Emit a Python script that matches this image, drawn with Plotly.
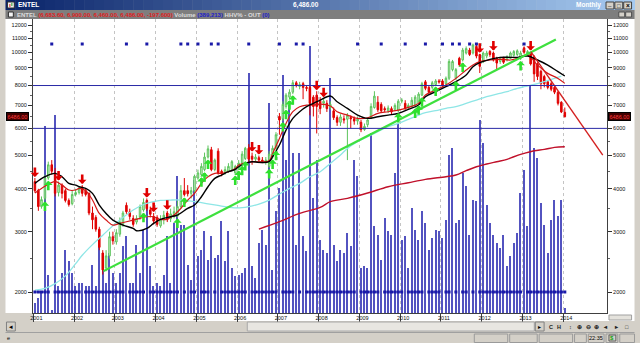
import math
import pandas as pd
import plotly.graph_objects as go

# ---------------- data ----------------
months = [d + pd.Timedelta(days=14) for d in pd.date_range("2001-01-01", periods=157, freq="MS")]
mstr = [d.strftime("%Y-%m-%d") for d in months]

open_ = [4200,3960,3550,3750,4300,4700,4450,3900,4100,3950,
         3700,3620,3850,3900,4050,3950,3880,3400,3300,3050,
         2600,2350,2550,2900,2800,2950,3150,3580,3430,3280,
         3200,3300,3470,3700,3470,3320,3300,3120,3250,3400,
         3270,3330,3330,3550,3950,3950,3880,3950,4300,4400,
         4550,4950,5200,4550,5150,4500,4450,4500,4550,4450,
         4600,4750,4900,5250,4980,4880,4930,4850,4780,4650,
         4950,5250,6500,6400,6950,7400,7650,8150,7950,8100,
         7900,7900,7400,7500,7200,7100,7100,6900,6750,6450,
         6250,6400,6380,6450,6400,6300,6250,5950,6150,6450,
         6900,7150,7050,6850,6750,6850,6820,6750,7200,7100,
         6900,6950,7000,7100,7500,8200,7900,7900,8050,8250,
         8250,8100,8400,8900,8400,9600,9500,9950,10150,9950,
         10400,9850,9400,9750,10050,9950,9600,9400,9600,9500,
         9600,9800,9850,9600,10300,9850,9950,9700,9250,8800,
         8500,8200,8100,7900,7650,7150,6683.6]
high = [4300,4000,3800,4400,4800,4850,4600,4200,4150,4000,
        3750,3950,4000,4050,4100,4000,3900,3550,3350,3100,
        2650,2650,3000,3000,3050,3300,3450,3650,3500,3350,
        3350,3600,3750,3750,3550,3400,3350,3350,3450,3450,
        3500,3550,3700,4100,4300,4100,4050,4400,4550,4750,
        5100,5350,5300,4900,5250,4550,4650,4750,4850,4700,
        4850,5150,5300,5400,5100,5050,5000,4950,4950,5150,
        5350,5850,6650,7200,7600,7800,8300,8250,8200,8200,
        8000,8000,7500,7700,7400,7350,7250,7200,6900,6550,
        6600,6550,6650,6550,6500,6500,6350,6200,6450,7100,
        7700,7450,7150,6950,7000,6950,7100,7300,7350,7250,
        7100,7400,7500,7650,8200,8300,8000,8250,8350,8350,
        8350,8500,9550,9500,9000,9700,10300,10400,10300,10600,
        10500,9900,10050,10100,10150,10050,9700,9700,9700,9800,
        10050,10150,10200,10100,10400,10150,10050,9800,9350,8900,
        8600,8300,8200,8000,7700,7200,6900]
low = [3900,3450,3500,3700,4250,4400,3800,3800,3750,3650,
       3550,3580,3800,3850,3800,3800,3350,3050,3000,2650,
       2250,2300,2500,2750,2750,2900,3100,3380,3250,3100,
       3150,3250,3430,3450,3300,3150,3100,3080,3150,3200,
       3200,3280,3300,3500,3800,3800,3750,3900,4250,4350,
       4500,4900,4500,4500,4400,4350,4400,4450,4500,4400,
       4550,4700,4850,4800,4700,4800,4750,4750,4700,4600,
       4900,5200,5750,6300,6850,7300,7550,7900,7800,7300,
       7700,6550,6500,5800,6600,6900,6700,6800,6350,6100,
       6100,6200,4850,6000,6150,6150,5850,5900,6050,6400,
       6850,6700,6650,6700,6650,6600,6750,6700,7100,6800,
       6800,6900,6900,7050,7450,7750,7600,7800,8000,8100,
       7900,8000,8300,8800,8300,9100,9400,9850,9750,9850,
       9600,8700,9300,9600,9700,9400,8900,9250,9250,9400,
       9550,9700,9750,9500,9900,9800,9150,8200,8300,7800,
       7900,7800,7700,7550,7000,6650,6460]
close = [3950,3550,3720,4300,4700,4500,3880,4100,3880,3700,
         3600,3850,3900,4000,3880,3850,3400,3250,3050,2700,
         2320,2550,2900,2820,2980,3200,3400,3430,3320,3150,
         3280,3550,3650,3500,3370,3220,3150,3250,3350,3250,
         3380,3430,3550,3950,3850,3870,3950,4350,4450,4650,
         4950,5230,4550,4850,4450,4420,4550,4650,4800,4650,
         4750,5050,5250,4880,4880,4950,4850,4800,4850,5050,
         5250,5750,6350,7050,7500,7650,8150,8000,8050,7900,
         7850,7100,6950,6950,6850,7200,6850,7050,6450,6250,
         6480,6350,6550,6400,6300,6380,5950,6080,6350,6950,
         7450,6800,6750,6800,6880,6700,7000,7200,7250,6850,
         7000,7250,7400,7550,8100,7850,7650,8150,8250,8200,
         8000,8400,9400,9400,8900,9200,10150,10250,9850,10500,
         9750,9100,9950,9950,9850,9500,9300,9600,9350,9700,
         9950,10050,10100,9950,10000,10050,9250,8650,8500,8100,
         8100,7900,7800,7650,7100,6700,6486]
volume = [780,1170,1560,14560,2990,260,15470,2080,3120,4940,
          4030,3120,2080,2340,2340,2080,2080,3770,2080,5980,
          4680,2340,4680,3120,2340,3120,5200,5980,2340,2340,
          5330,3120,6500,8840,3640,2080,2340,2080,2990,5980,
          2340,7020,10660,6890,6890,3770,2600,10400,4420,4940,
          6370,4160,5980,4290,4550,7150,4030,6370,3510,2860,
          2990,3120,3510,18720,3640,2730,5460,6500,5330,16380,
          3380,7930,9750,18590,11960,16250,12480,5330,12480,5980,
          4810,20800,8970,11960,5720,4940,4680,18330,5330,4030,
          4940,4680,6240,5200,11960,10660,3510,3640,3510,14040,
          6760,6110,4160,7410,6370,6110,10920,14820,5720,5980,
          3510,8190,6500,5720,7930,7020,4940,5850,6500,6370,
          5850,7280,12350,12870,7020,7280,10920,9880,6110,8840,
          8710,15080,13260,8450,7020,6110,5460,5070,6110,3640,
          4420,5460,6240,9360,11180,6760,17810,12870,12090,8580,
          6890,4680,7280,8840,7540,8840,390]

black_idx = [0,3,6,8,10,12,13,15,17,19,21,23,26,29,30,33,35,37,40,42,45,47,49,51,53,55,57,59,60,62,
             64,66,69,70,72,74,76,78,80,82,84,87,89,92,95,98,101,104,107,110,113,115,118,121,124,127,
             129,131,134,137,140,142,145,148,151,154,156]
black_val = [4148,4338,4436,4338,4148,4100,4056,4010,3879,3587,3391,3243,3136,3066,3018,3066,3171,3257,3316,3353,
             3508,3587,3793,4056,4290,4387,4486,4556,4639,4744,4797,4776,4797,4961,5365,5933,6416,6710,6939,7096,
             7257,7455,7176,6862,6561,6416,6488,6561,6635,6816,7017,7421,7675,7937,8208,8584,9078,9325,9536,9665,
             9665,9665,9752,9494,9180,8778,8526]
red_idx = [0,2,6,8,10,12,13,15,17,19,21,23,25,27,29,31,33,35,37,39,41,43,45,47,49,51,53,55,57,59,
           60,62,64,66,69,70,72,74,76,78,80,82,84,87,89,92,95,98,101,104,107,110,113,115,118,121,124,127,
           129,131,134,137,140,142,145,148,151,154,156]
red_val = [3888,4010,4195,4100,3967,3967,4010,3950,3709,3391,3243,3136,3171,3207,3243,3280,3316,3316,3257,3264,
           3353,3508,3709,3879,4148,4338,4436,4436,4486,4587,4691,4765,4797,4797,4830,5073,5610,6204,6710,6939,
           7017,7017,7064,6970,6710,6561,6416,6445,6635,6710,6786,6908,7096,7505,7761,8026,8392,8877,9180,9388,
           9494,9536,9494,9600,9818,9180,8680,8392,8116]
cyan_idx = [0,3,6,9,12,14,17,20,23,26,29,32,35,37,40,43,46,49,52,55,58,61,63,66,69,72,75,78,81,84,
            87,90,92,95,98,101,104,107,110,113,115,118,121,124,127,130,133,136,139,141,144,147,150,153,155]
cyan_val = [2027,2049,2116,2230,2420,2560,2750,2930,3120,3300,3470,3600,3670,3700,3709,3709,3684,3643,3603,3563,
            3523,3523,3547,3611,3709,3862,4010,4148,4338,4486,4744,5017,5246,5487,5673,5867,6067,6204,6374,6561,
            6665,6756,6862,6939,7096,7257,7421,7555,7675,7796,7937,8062,8208,8392,8526]
dred_idx = [66,72,78,84,87,92,98,104,110,115,121,124,127,130,133,136,139,141,144,147,150,153,156]
dred_val = [3052,3207,3391,3530,3668,3751,3888,4056,4167,4261,4338,4387,4516,4639,4723,4797,4873,4961,5073,
            5164,5211,5281,5305]

up_trend_dates = ["2002-09-22", "2013-10-27"]
up_trend_vals = [2302, 10893]
down_trend_dates = ["2013-03-18", "2014-12-21"]
down_trend_vals = [10030, 5013]

level_lines = [6000, 8000]
sell_arrow_idx = [0, 7, 14, 33, 35, 39, 64, 66, 83, 85, 131, 135, 146]
buy_arrow_idx = [3, 4, 32, 42, 44, 49, 50, 51, 59, 60, 61, 62, 69, 70, 71, 73, 74, 75, 76,
                 107, 112, 113, 114, 118, 124, 126, 143]
hhv_out_idx = [5, 14, 27, 33, 43, 45, 48, 52, 54, 63, 72, 77, 79, 95, 102, 109, 115, 120,
               123, 125, 128, 130, 144]

price_ticks = [2000, 3000, 4000, 5000, 6000, 7000, 8000, 9000, 10000, 11000, 12000]
minor_ticks = [2500, 3500, 4500, 5500, 6500, 7500, 8500, 9500, 10500, 11500]
years = list(range(2001, 2015))
last_price = 6486

# ---------------- geometry helpers (pixels -> paper) ----------------
PL, PR, PT, PB = 28, 612, 19, 313
def px(x):
    return (x - PL) / (PR - PL)
def py(y):
    return (PB - y) / (PB - PT)

FONT = "Liberation Sans"
fig = go.Figure()

# volume (behind everything)
fig.add_trace(go.Bar(x=mstr, y=volume, yaxis="y", marker=dict(color="#3c3cb8", line=dict(width=0)),
                     width=12 * 86400000, opacity=0.88, hoverinfo="skip"))

# candles
fig.add_trace(go.Candlestick(x=mstr, open=open_, high=high, low=low, close=close, yaxis="y2",
                             increasing=dict(line=dict(color="#5cc45c", width=1), fillcolor="#d6f0d2"),
                             decreasing=dict(line=dict(color="#e00000", width=1), fillcolor="#e00000"),
                             whiskerwidth=0))

def line(idx, vals, color, width, shape="spline"):
    fig.add_trace(go.Scatter(x=[mstr[i] for i in idx], y=vals, yaxis="y2", mode="lines",
                             line=dict(color=color, width=width, shape=shape, smoothing=1.0),
                             hoverinfo="skip"))

line(cyan_idx, cyan_val, "#8ee6e6", 1.3)
line(dred_idx, dred_val, "#c0102a", 1.4)
line(red_idx, red_val, "#d41818", 1.2)
line(black_idx, black_val, "#000000", 1.4)

fig.add_trace(go.Scatter(x=up_trend_dates, y=up_trend_vals, yaxis="y2", mode="lines",
                         line=dict(color="#3ee03e", width=2.2), hoverinfo="skip"))
fig.add_trace(go.Scatter(x=down_trend_dates, y=down_trend_vals, yaxis="y2", mode="lines",
                         line=dict(color="#d42020", width=1.4), hoverinfo="skip"))

for lv in level_lines:
    fig.add_trace(go.Scatter(x=["2000-06-01", "2015-06-01"], y=[lv, lv], yaxis="y3", mode="lines",
                             line=dict(color="#2a2aa6", width=1), hoverinfo="skip"))

# HHV% - OUT signal
top_x = [mstr[i] for i in hhv_out_idx]
fig.add_trace(go.Scatter(x=top_x, y=[1] * len(top_x), yaxis="y4", mode="markers",
                         marker=dict(symbol="square", size=3, color="#1a1aa8"), hoverinfo="skip"))
bot_y = [None if i in hhv_out_idx else 0 for i in range(len(mstr))]
fig.add_trace(go.Scatter(x=mstr, y=bot_y, yaxis="y4", mode="lines+markers",
                         line=dict(color="#2a2ac0", width=1),
                         marker=dict(symbol="square", size=3, color="#1a1aa8"), hoverinfo="skip"))

# ---------------- chrome shapes ----------------
shapes = []
def rect(x0, y0, x1, y1, fill, line_color=None, layer="above", lw=1):
    shapes.append(dict(type="rect", xref="paper", yref="paper", x0=px(x0), x1=px(x1), y0=py(y1), y1=py(y0),
                       fillcolor=fill, layer=layer,
                       line=dict(color=line_color or fill, width=lw if line_color else 0)))

# white axis areas
rect(0, PT, PL, PB, "#ffffff", layer="below")
rect(PR, PT, 640, PB, "#ffffff", layer="below")
rect(PL, PB, PR, 321, "#ffffff", layer="below")
rect(PR, PB, 640, 321, "#ffffff", layer="below")
rect(614, 315, 637, 320, "#e4e2dc", "#a0a0a0", layer="below")

# title bar gradient (Windows classic)
c0, c1 = (10, 36, 106), (166, 202, 240)
n = 64
for k in range(n):
    t = k / (n - 1)
    col = "rgb(%d,%d,%d)" % tuple(round(a + (b - a) * t) for a, b in zip(c0, c1))
    rect(k * 10, 0, k * 10 + 10.5, 10, col)
# header bar
rect(0, 10, 640, 19, "#7e7e7e")
rect(3, 12, 8, 17, "#f4f4f4", "#303030")
rect(624, 12, 630, 17, "#d4d0c8", "#505050")
rect(631, 12, 637, 17, "#d4d0c8", "#505050")
# title icon and buttons
rect(2, 2, 9, 8, "#f0f0f0", "#303030")
rect(4, 4, 5, 7, "#e02020")
rect(6, 3, 7, 6, "#20a020")
for bx in (611, 620, 629):
    rect(bx, 2, bx + 8, 9, "#d4d0c8", "#404040")
# toolbar / scrollbar
rect(1, 322, 10, 331, "#d4d0c8", "#808080")
rect(246, 322, 538, 331, "#e8e6e1", "#a8a8a8")
rect(539, 322, 548, 331, "#d4d0c8", "#808080")
shapes.append(dict(type="line", xref="paper", yref="paper", x0=px(0), x1=px(640), y0=py(332.5), y1=py(332.5),
                   line=dict(color="#a0a0a0", width=1), layer="above"))
# status bar panels
for a, b in [(477, 511), (513, 541), (543, 577), (579, 591), (593, 609), (611, 623), (625, 640)]:
    rect(a, 334, b, 342.5, "rgba(0,0,0,0)", "#9a9a9a")
rect(614, 335, 621, 341, "#d4d0c8", "#606060")

# ---------------- annotations ----------------
ann = []
def text(x, y, s, size=6, color="#000000", anchor="left", bold=False, bg=None):
    ann.append(dict(xref="paper", yref="paper", x=px(x), y=py(y), text=("<b>%s</b>" % s) if bold else s,
                    showarrow=False, xanchor=anchor, yanchor="middle",
                    font=dict(family=FONT, size=size, color=color), bgcolor=bg))

text(11, 5, "ENTEL", 6.5, "#ffffff", bold=True)
text(306, 5, "6,486.00", 6.5, "#ffffff", anchor="center", bold=True)
text(608, 5, "Monthly", 6.5, "#ffffff", anchor="right", bold=True)
text(614.5, 4.5, "_", 6, "#000000", anchor="center")
text(624, 5.5, "□", 6, "#000000", anchor="center")
text(633, 5.5, "×", 6.5, "#000000", anchor="center", bold=True)

header = ('<span style="color:#dcdcdc">ENTEL </span>'
          '<span style="color:#e02020">(6,683.60, 6,900.00, 6,460.00, 6,486.00, -197.600)</span>'
          '<span style="color:#dcdcdc"> Volume </span>'
          '<span style="color:#2020c8">(389,213)</span>'
          '<span style="color:#dcdcdc"> HHV% - OUT </span>'
          '<span style="color:#2020c8">(0)</span>')
text(10, 14.8, header, 6, bold=True)

text(5.5, 326.5, "◂", 7, "#000000", anchor="center")
text(543.5, 326.5, "▸", 6, "#000000", anchor="center")
for xg, g in [(555, "C"), (563, "H"), (575, "↕"), (584, "⊕"), (593, "⊖"), (601, "⊕"), (610, "◂"), (622, "▸"), (632, "□")]:
    text(xg, 326.5, g, 5.5, "#202020", anchor="center", bold=True)
text(601, 338.2, "22:35", 5.5, "#000000", anchor="center")
text(617.5, 338.2, "$", 6, "#10a010", anchor="center", bold=True)
text(0, 338, "e", 5.5, "#000000")

# last price tags
for xp in (1, 613):
    ann.append(dict(xref="paper", yref="y2", x=px(xp), y=math.log10(last_price), text="6486.00",
                    showarrow=False, xanchor="left", yanchor="middle",
                    font=dict(family=FONT, size=5.5, color="#ff3a3a"), bgcolor="#420000",
                    bordercolor="#000000", borderwidth=1, borderpad=0.5))

# signal arrows
for i in sell_arrow_idx:
    ann.append(dict(xref="x", yref="y2", x=mstr[i], y=math.log10(high[i]), text="", showarrow=True,
                    arrowhead=1, arrowsize=0.55, arrowwidth=2.6, arrowcolor="#e00000",
                    ax=0, ay=-12, standoff=1))
for i in buy_arrow_idx:
    ann.append(dict(xref="x", yref="y2", x=mstr[i], y=math.log10(low[i]), text="", showarrow=True,
                    arrowhead=1, arrowsize=0.55, arrowwidth=2.6, arrowcolor="#2ee02e",
                    ax=0, ay=12, standoff=1))

# ---------------- axes ----------------
logrange = [math.log10(1738), math.log10(12502)]
tickfont = dict(family=FONT, size=5.5, color="#101010")
price_axis = dict(type="log", range=logrange, overlaying="y", anchor="x", tickvals=price_ticks,
                  ticktext=[str(v) for v in price_ticks], ticks="outside", ticklen=4, tickcolor="#303030",
                  showline=True, linecolor="#404040", linewidth=1, showgrid=False, zeroline=False,
                  tickfont=tickfont, fixedrange=True,
                  minor=dict(tickvals=minor_ticks, ticks="outside", ticklen=2, tickcolor="#606060"))

fig.update_layout(
    width=640, height=343, autosize=False,
    margin=dict(l=PL, r=640 - PR, t=PT, b=343 - PB, pad=0),
    paper_bgcolor="#d4d0c8", plot_bgcolor="#ffffff",
    showlegend=False, bargap=0,
    font=dict(family=FONT, size=6),
    xaxis=dict(type="date", range=["2000-12-29", "2015-01-28"],
               tickvals=["%d-01-01" % y for y in years], ticktext=[str(y) for y in years],
               ticks="outside", ticklen=8, tickcolor="#404040", showline=True, linecolor="#404040",
               showgrid=True, gridcolor="#c4c4c4", griddash="dot", gridwidth=1, zeroline=False,
               tickfont=dict(family=FONT, size=5.5, color="#101010"),
               ticklabelshift=3, ticklabelstandoff=-9, rangeslider=dict(visible=False), fixedrange=True),
    yaxis=dict(range=[0, 22932], visible=False, fixedrange=True),
    yaxis2=dict(price_axis, side="right"),
    yaxis3=dict(price_axis, side="left"),
    yaxis4=dict(range=[-0.0847, 1.1008], overlaying="y", anchor="x", visible=False, fixedrange=True),
    shapes=shapes, annotations=ann,
)

fig.write_html("out.html")
